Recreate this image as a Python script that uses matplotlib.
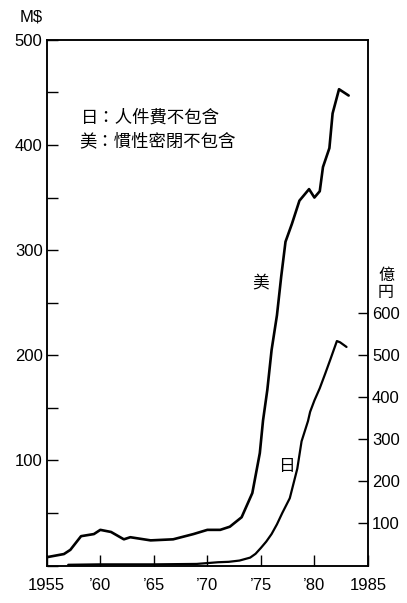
import matplotlib
matplotlib.use("Agg")
import matplotlib.pyplot as plt
from matplotlib.ticker import MultipleLocator

plt.rcParams['font.family'] = ['Liberation Sans', 'Noto Sans CJK TC', 'DejaVu Sans']

# US budget (M$, left axis)
us_years = [1955, 1956.6, 1957.2, 1958.2, 1959.4, 1960, 1961, 1962.2, 1962.8, 1964.7,
            1966.8, 1968.7, 1970, 1971.2, 1972.1, 1973.2, 1974.2, 1974.9, 1975.2, 1975.6,
            1976.0, 1976.5, 1976.9, 1977.3, 1977.9, 1978.6, 1979.5, 1980.0, 1980.5,
            1980.8, 1981.4, 1981.7, 1982.3, 1983.2]
us_values = [8, 11, 15, 28, 30, 34, 32, 25, 27, 24,
             25, 30, 34, 34, 37, 46, 69, 107, 138, 167,
             205, 238, 275, 308, 325, 347, 358, 350, 356,
             379, 397, 430, 453, 447]

# Japan budget (億円, right axis)
jp_years = [1957, 1960, 1965, 1969, 1970, 1971, 1972, 1973, 1974, 1974.5,
            1975, 1975.5, 1976, 1976.5, 1977, 1977.7, 1978, 1978.4, 1978.8, 1979.4,
            1979.6, 1980, 1980.5, 1981, 1981.5, 1982.1, 1982.4, 1983]
jp_values = [2, 3, 3, 4, 6, 8, 9, 12, 19, 28,
             42, 57, 75, 98, 125, 160, 190, 230, 295, 343,
             365, 392, 421, 455, 490, 533, 530, 519]

x_ticks = [1955, 1960, 1965, 1970, 1975, 1980, 1985]
x_labels = ['1955', '’60', '’65', '’70', '’75', '’80', '1985']
left_ticks = [100, 200, 300, 400, 500]
right_ticks = [100, 200, 300, 400, 500, 600]

notes = ['日：人件費不包含', '美：慣性密閉不包含']

fig = plt.figure(figsize=(4.07, 6.03), dpi=100)
ax = fig.add_axes([0.115, 0.062, 0.789, 0.872])
ax2 = ax.twinx()

ax.plot(us_years, us_values, color='black', lw=1.9, solid_capstyle='round')
ax2.plot(jp_years, jp_values, color='black', lw=1.6, solid_capstyle='round')

ax.set_xlim(1955, 1985)
ax.set_ylim(0, 500)
ax2.set_ylim(0, 1248)

ax.set_xticks(x_ticks)
ax.set_xticklabels(x_labels)
ax.set_yticks(left_ticks)
ax.yaxis.set_minor_locator(MultipleLocator(50))
ax2.set_yticks(right_ticks)

for a in (ax, ax2):
    for s in a.spines.values():
        s.set_linewidth(1.1)
ax.tick_params(axis='both', which='both', direction='in', length=8, width=1.0,
               labelsize=12, pad=3, top=False)
ax.tick_params(axis='x', pad=9, labelsize=12)
ax2.tick_params(axis='y', direction='in', length=7, width=1.0, labelsize=12, pad=3)

ax.text(1958.2, 426, notes[0], fontsize=12.5, va='center', ha='left')
ax.text(1958.0, 404, notes[1], fontsize=12.5, va='center', ha='left')

ax.text(1975.0, 268, '美', fontsize=12, va='center', ha='center')
ax2.text(1977.4, 235, '日', fontsize=12, va='center', ha='center')

fig.text(31 / 407, 1 - 17 / 603, 'M$', fontsize=12, ha='center', va='center')
fig.text(386 / 407, 1 - 275 / 603, '億', fontsize=11.5, ha='center', va='center')
fig.text(386 / 407, 1 - 292 / 603, '円', fontsize=11.5, ha='center', va='center')

fig.savefig('out.png', dpi=100)
